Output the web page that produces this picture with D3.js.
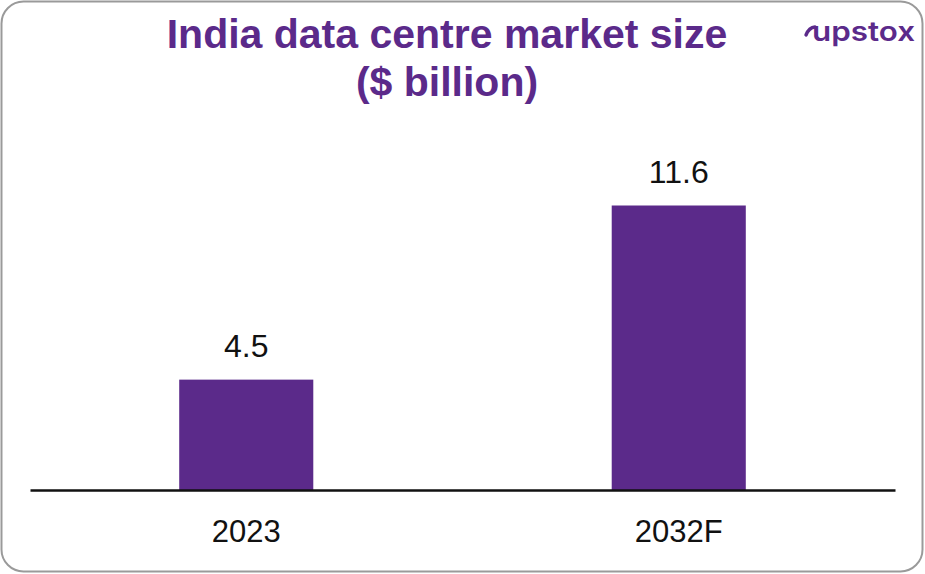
<!DOCTYPE html>
<html>
<head>
<meta charset="utf-8">
<script src="https://cdn.jsdelivr.net/npm/d3@7"></script>
<style>
  html, body { margin: 0; padding: 0; background: #fff; }
  svg { display: block; }
</style>
</head>
<body>
<svg id="chart" width="925" height="574"></svg>
<script>
const categories = ["2023", "2032F"];
const values = [4.5, 11.6];
const valueLabels = ["4.5", "11.6"];
const titleLines = ["India data centre market size", "($ billion)"];

const purple = "#5b2a8a";
const svg = d3.select("#chart");

// card border
svg.append("rect")
  .attr("x", 1.5).attr("y", 1.5)
  .attr("width", 921).attr("height", 570)
  .attr("rx", 22).attr("ry", 22)
  .attr("fill", "#fff")
  .attr("stroke", "#9a9a9a")
  .attr("stroke-width", 2);

// title
svg.append("text")
  .attr("x", 447).attr("y", 48)
  .attr("text-anchor", "middle")
  .attr("font-family", "Liberation Sans, Arial, sans-serif")
  .attr("font-weight", "bold")
  .attr("font-size", 41)
  .attr("fill", purple)
  .selectAll("tspan")
  .data(titleLines)
  .join("tspan")
  .attr("x", 447)
  .attr("dy", (d, i) => i === 0 ? 0 : 48)
  .text(d => d);

// logo
svg.append("text")
  .attr("x", 812).attr("y", 40.5)
  .attr("font-family", "Inter, 'Noto Sans', sans-serif")
  .attr("font-weight", 600)
  .attr("font-size", 27)
  .attr("textLength", 103)
  .attr("lengthAdjust", "spacingAndGlyphs")
  .attr("fill", purple)
  .text("upstox");
svg.append("path")
  .attr("d", "M806,35 Q809,27.5 815,27")
  .attr("fill", "none")
  .attr("stroke", purple)
  .attr("stroke-width", 3.4)
  .attr("stroke-linecap", "round");

const baseline = 490;
const x = d3.scaleBand()
  .domain(categories)
  .range([30, 895])
  .paddingInner(0.69)
  .paddingOuter(0.345);

const y = d3.scaleLinear()
  .domain([0, 11.6])
  .range([baseline, 205.5]);

svg.append("g")
  .selectAll("rect")
  .data(values)
  .join("rect")
  .attr("x", (d, i) => x(categories[i]))
  .attr("y", d => y(d))
  .attr("width", x.bandwidth())
  .attr("height", d => baseline - y(d))
  .attr("fill", purple);

svg.append("g")
  .selectAll("text")
  .data(values)
  .join("text")
  .attr("x", (d, i) => x(categories[i]) + x.bandwidth() / 2)
  .attr("y", d => y(d) - 23)
  .attr("text-anchor", "middle")
  .attr("font-family", "Liberation Sans, Arial, sans-serif")
  .attr("font-size", 32)
  .attr("fill", "#111")
  .text((d, i) => valueLabels[i]);

// x axis
const xAxis = d3.axisBottom(x).tickSize(0).tickPadding(30);
const gx = svg.append("g")
  .attr("transform", `translate(0,${baseline})`)
  .call(xAxis);
gx.select(".domain")
  .attr("stroke", "#111")
  .attr("stroke-width", 2.5);
gx.selectAll(".tick text")
  .attr("font-family", "Liberation Sans, Arial, sans-serif")
  .attr("font-size", 31)
  .attr("fill", "#111")
  .attr("dy", "0.71em");
</script>
</body>
</html>
